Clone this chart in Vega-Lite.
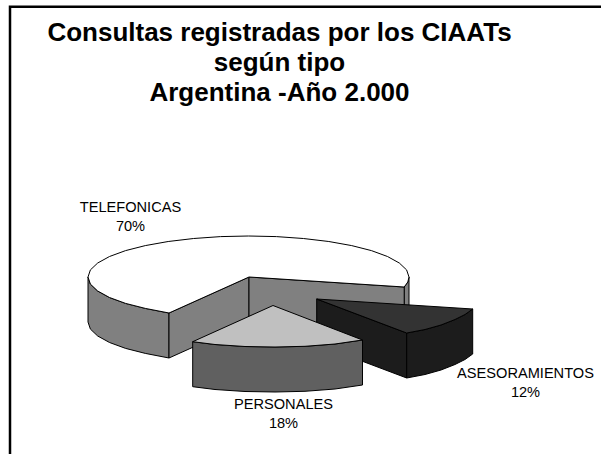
{"$schema":"https://vega.github.io/schema/vega-lite/v6.json","width":601,"height":454,"autosize":{"type":"none"},"padding":0,"background":"white","view":{"stroke":null},
"title":{"text":["Consultas registradas por los CIAATs","según tipo","Argentina -Año 2.000"],"font":"Liberation Sans","fontWeight":"bold","fontSize":26,"lineHeight":30,"color":"black","anchor":"middle","frame":"group","dx":-21,"offset":-106},
"datasets":{"formas":[
{"parte":"tel_borde","n":1,"x":88,"y":277},{"parte":"tel_borde","n":2,"x":90.4,"y":284.1},{"parte":"tel_borde","n":3,"x":97.7,"y":291},{"parte":"tel_borde","n":4,"x":109.5,"y":297.5},{"parte":"tel_borde","n":5,"x":125.6,"y":303.4},{"parte":"tel_borde","n":6,"x":145.3,"y":308.4},{"parte":"tel_borde","n":7,"x":169,"y":313},{"parte":"tel_borde","n":8,"x":169,"y":358},{"parte":"tel_borde","n":9,"x":145.3,"y":353.4},{"parte":"tel_borde","n":10,"x":125.6,"y":348.4},{"parte":"tel_borde","n":11,"x":109.5,"y":342.5},{"parte":"tel_borde","n":12,"x":97.7,"y":336},{"parte":"tel_borde","n":13,"x":90.4,"y":329.1},{"parte":"tel_borde","n":14,"x":88,"y":322},{"parte":"tel_borde","n":15,"x":88,"y":277},
{"parte":"tel_der","n":1,"x":404.2,"y":287},{"parte":"tel_der","n":2,"x":407.8,"y":282},{"parte":"tel_der","n":3,"x":409,"y":277},{"parte":"tel_der","n":4,"x":409,"y":322},{"parte":"tel_der","n":5,"x":404.2,"y":332},{"parte":"tel_der","n":6,"x":404.2,"y":287},
{"parte":"tel_muro_a","n":1,"x":169,"y":313},{"parte":"tel_muro_a","n":2,"x":249,"y":277},{"parte":"tel_muro_a","n":3,"x":249,"y":322},{"parte":"tel_muro_a","n":4,"x":169,"y":358},{"parte":"tel_muro_a","n":5,"x":169,"y":313},
{"parte":"tel_muro_b","n":1,"x":249,"y":277},{"parte":"tel_muro_b","n":2,"x":404.2,"y":287},{"parte":"tel_muro_b","n":3,"x":404.2,"y":332},{"parte":"tel_muro_b","n":4,"x":249,"y":322},{"parte":"tel_muro_b","n":5,"x":249,"y":277},
{"parte":"tel_sup","n":1,"x":249,"y":277},{"parte":"tel_sup","n":2,"x":404.2,"y":287},{"parte":"tel_sup","n":3,"x":407.8,"y":282},{"parte":"tel_sup","n":4,"x":409,"y":277},{"parte":"tel_sup","n":5,"x":406.6,"y":269.9},{"parte":"tel_sup","n":6,"x":399.3,"y":263},{"parte":"tel_sup","n":7,"x":387.5,"y":256.5},{"parte":"tel_sup","n":8,"x":371.4,"y":250.6},{"parte":"tel_sup","n":9,"x":351.7,"y":245.6},{"parte":"tel_sup","n":10,"x":328.8,"y":241.5},{"parte":"tel_sup","n":11,"x":303.4,"y":238.5},{"parte":"tel_sup","n":12,"x":276.4,"y":236.6},{"parte":"tel_sup","n":13,"x":248.5,"y":236},{"parte":"tel_sup","n":14,"x":220.6,"y":236.6},{"parte":"tel_sup","n":15,"x":193.6,"y":238.5},{"parte":"tel_sup","n":16,"x":168.2,"y":241.5},{"parte":"tel_sup","n":17,"x":145.3,"y":245.6},{"parte":"tel_sup","n":18,"x":125.6,"y":250.6},{"parte":"tel_sup","n":19,"x":109.5,"y":256.5},{"parte":"tel_sup","n":20,"x":97.7,"y":263},{"parte":"tel_sup","n":21,"x":90.4,"y":269.9},{"parte":"tel_sup","n":22,"x":88,"y":277},{"parte":"tel_sup","n":23,"x":90.4,"y":284.1},{"parte":"tel_sup","n":24,"x":97.7,"y":291},{"parte":"tel_sup","n":25,"x":109.5,"y":297.5},{"parte":"tel_sup","n":26,"x":125.6,"y":303.4},{"parte":"tel_sup","n":27,"x":145.3,"y":308.4},{"parte":"tel_sup","n":28,"x":169,"y":313},{"parte":"tel_sup","n":29,"x":249,"y":277},
{"parte":"ase_muro","n":1,"x":316.7,"y":299},{"parte":"ase_muro","n":2,"x":406.7,"y":333},{"parte":"ase_muro","n":3,"x":406.7,"y":378},{"parte":"ase_muro","n":4,"x":316.7,"y":344},{"parte":"ase_muro","n":5,"x":316.7,"y":299},
{"parte":"ase_borde","n":1,"x":406.7,"y":333},{"parte":"ase_borde","n":2,"x":425,"y":329.5},{"parte":"ase_borde","n":3,"x":441,"y":325},{"parte":"ase_borde","n":4,"x":455,"y":319.5},{"parte":"ase_borde","n":5,"x":465,"y":314.5},{"parte":"ase_borde","n":6,"x":472.7,"y":309},{"parte":"ase_borde","n":7,"x":472.7,"y":354},{"parte":"ase_borde","n":8,"x":465,"y":359.5},{"parte":"ase_borde","n":9,"x":455,"y":364.5},{"parte":"ase_borde","n":10,"x":441,"y":370},{"parte":"ase_borde","n":11,"x":425,"y":374.5},{"parte":"ase_borde","n":12,"x":406.7,"y":378},{"parte":"ase_borde","n":13,"x":406.7,"y":333},
{"parte":"ase_sup","n":1,"x":316.7,"y":299},{"parte":"ase_sup","n":2,"x":472.7,"y":309},{"parte":"ase_sup","n":3,"x":465,"y":314.5},{"parte":"ase_sup","n":4,"x":455,"y":319.5},{"parte":"ase_sup","n":5,"x":441,"y":325},{"parte":"ase_sup","n":6,"x":425,"y":329.5},{"parte":"ase_sup","n":7,"x":406.7,"y":333},{"parte":"ase_sup","n":8,"x":316.7,"y":299},
{"parte":"per_borde","n":1,"x":192.7,"y":341.7},{"parte":"per_borde","n":2,"x":215,"y":344.5},{"parte":"per_borde","n":3,"x":245,"y":346.5},{"parte":"per_borde","n":4,"x":275,"y":347},{"parte":"per_borde","n":5,"x":305,"y":346.3},{"parte":"per_borde","n":6,"x":335,"y":344},{"parte":"per_borde","n":7,"x":362.5,"y":340},{"parte":"per_borde","n":8,"x":362.5,"y":385},{"parte":"per_borde","n":9,"x":335,"y":389},{"parte":"per_borde","n":10,"x":305,"y":391.3},{"parte":"per_borde","n":11,"x":275,"y":392},{"parte":"per_borde","n":12,"x":245,"y":391.5},{"parte":"per_borde","n":13,"x":215,"y":389.5},{"parte":"per_borde","n":14,"x":192.7,"y":386.7},{"parte":"per_borde","n":15,"x":192.7,"y":341.7},
{"parte":"per_sup","n":1,"x":273,"y":305.5},{"parte":"per_sup","n":2,"x":362.5,"y":340},{"parte":"per_sup","n":3,"x":335,"y":344},{"parte":"per_sup","n":4,"x":305,"y":346.3},{"parte":"per_sup","n":5,"x":275,"y":347},{"parte":"per_sup","n":6,"x":245,"y":346.5},{"parte":"per_sup","n":7,"x":215,"y":344.5},{"parte":"per_sup","n":8,"x":192.7,"y":341.7},{"parte":"per_sup","n":9,"x":273,"y":305.5}
],
"marco":[{"n":1,"x":10,"y":454},{"n":2,"x":10,"y":6.8},{"n":3,"x":601,"y":6.8}],
"rotulos":[{"categoria":"TELEFONICAS","porcentaje":"70%","x":130.5,"y":208},{"categoria":"ASESORAMIENTOS","porcentaje":"12%","x":525.5,"y":374},{"categoria":"PERSONALES","porcentaje":"18%","x":283.5,"y":405}]},
"layer":[
{"data":{"name":"marco"},"mark":{"type":"line","stroke":"black","strokeWidth":2.5,"strokeJoin":"miter"},"encoding":{"x":{"field":"x","type":"quantitative","scale":{"domain":[0,601]},"axis":null},"y":{"field":"y","type":"quantitative","scale":{"domain":[454,0]},"axis":null},"order":{"field":"n"}}},
{"data":{"name":"formas"},"mark":{"type":"line","filled":true,"stroke":"black","strokeWidth":1,"strokeJoin":"round"},"encoding":{"x":{"field":"x","type":"quantitative","scale":{"domain":[0,601]},"axis":null},"y":{"field":"y","type":"quantitative","scale":{"domain":[454,0]},"axis":null},"order":{"field":"n"},"fill":{"field":"parte","type":"nominal","legend":null,"sort":null,"scale":{"domain":["tel_borde","tel_der","tel_muro_a","tel_muro_b","tel_sup","ase_muro","ase_borde","ase_sup","per_borde","per_sup"],"range":["#808080","#808080","#808080","#808080","#ffffff","#1c1c1c","#1c1c1c","#333333","#606060","#c0c0c0"]}}}},
{"data":{"name":"rotulos"},"mark":{"type":"text","font":"Liberation Sans","fontSize":14.6,"color":"black"},"encoding":{"x":{"field":"x","type":"quantitative","scale":{"domain":[0,601]},"axis":null},"y":{"field":"y","type":"quantitative","scale":{"domain":[454,0]},"axis":null},"text":{"field":"categoria"}}},
{"data":{"name":"rotulos"},"mark":{"type":"text","font":"Liberation Sans","fontSize":14.6,"color":"black","dy":18.5},"encoding":{"x":{"field":"x","type":"quantitative","scale":{"domain":[0,601]},"axis":null},"y":{"field":"y","type":"quantitative","scale":{"domain":[454,0]},"axis":null},"text":{"field":"porcentaje"}}}
],
"config":{"axis":{"grid":false}}}
